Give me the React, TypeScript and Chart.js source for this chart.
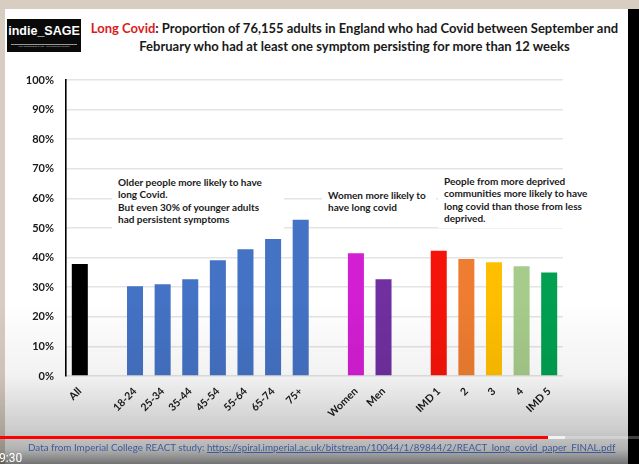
import React, { useEffect, useRef } from "react";
import { Chart, registerables } from "chart.js";

Chart.register(...registerables);

const categories = ["All", "", "18-24", "25-34", "35-44", "45-54", "55-64", "65-74", "75+", "", "Women", "Men", "", "IMD 1", "2", "3", "4", "IMD 5"];
const values = [37.8, null, 30.3, 31.0, 32.7, 39.1, 42.8, 46.3, 52.8, null, 41.5, 32.7, null, 42.3, 39.5, 38.4, 37.1, 35.0];
const barColors = ["#000000", "#000", "#4472C4", "#4472C4", "#4472C4", "#4472C4", "#4472C4", "#4472C4", "#4472C4", "#000", "#D21FD2", "#7030A0", "#000", "#F5140A", "#EE7D31", "#FFBE00", "#A6CB8A", "#00A050"];
const yMax = 100;
const yStep = 10;

const noteAge = ["Older people more likely to have", "long Covid.", "But even 30% of younger adults", "had persistent symptoms"];
const noteSex = ["Women more likely to", "have long covid"];
const noteImd = ["People from more deprived", "communities more likely to have", "long covid than those from less", "deprived."];

const FONT = "Lato, 'Open Sans', 'Liberation Sans', sans-serif";

function Note({ lines, left, top, width }: { lines: string[]; left: number; top: number; width: number }) {
  return (
    <div
      style={{
        position: "absolute",
        left,
        top,
        width,
        background: "#fff",
        padding: "3px 6px",
        fontFamily: FONT,
        fontWeight: 700,
        fontSize: 10,
        lineHeight: "12.4px",
        color: "#1a1a1a",
        zIndex: 3,
        whiteSpace: "nowrap",
      }}
    >
      {lines.map((l, i) => (
        <div key={i}>{l}</div>
      ))}
    </div>
  );
}

export default function App() {
  const ref = useRef<HTMLCanvasElement | null>(null);

  useEffect(() => {
    if (!ref.current) return;
    const chart = new Chart(ref.current, {
      type: "bar",
      data: {
        labels: categories,
        datasets: [
          {
            data: values as any,
            backgroundColor: barColors,
            barPercentage: 0.58,
            categoryPercentage: 1,
          },
        ],
      },
      options: {
        animation: false,
        responsive: true,
        maintainAspectRatio: false,
        layout: { padding: { left: 0, right: 37, top: 20, bottom: 0 } },
        plugins: { legend: { display: false }, tooltip: { enabled: false } },
        scales: {
          x: {
            grid: { display: false },
            border: { display: false },
            ticks: {
              autoSkip: false,
              maxRotation: 45,
              minRotation: 45,
              color: "#1a1a1a",
              font: { family: FONT, weight: "bold", size: 10.5 },
              padding: 1,
            },
            afterFit: (s: any) => {
              s.height = 64;
            },
          },
          y: {
            min: 0,
            max: yMax,
            ticks: {
              stepSize: yStep,
              callback: (v: any) => v + "%",
              color: "#1a1a1a",
              font: { family: FONT, weight: "bold", size: 11 },
              padding: 12,
            },
            grid: { color: "#e4e4e4", lineWidth: 1.5, drawTicks: false },
            border: { display: true, color: "#000", width: 1.6 },
            afterFit: (s: any) => {
              s.width = 66;
            },
          },
        },
      },
    });
    return () => chart.destroy();
  }, []);

  return (
    <div style={{ position: "fixed", left: 0, top: 0, width: 639, height: 464, overflow: "hidden", background: "#d8cdc1" }}>
      <div style={{ position: "absolute", left: 5, top: 9, width: 623, height: 455, background: "#fff" }} />
      <div style={{ position: "absolute", left: 628, top: 9, width: 11, height: 455, background: "#000" }} />

      {/* logo */}
      <div style={{ position: "absolute", left: 7, top: 19, width: 74, height: 33, background: "#0a0a0a", zIndex: 2 }}>
        <div style={{ position: "absolute", left: 0, top: 5, width: 74, textAlign: "center", color: "#fff", fontFamily: "'Liberation Sans', Arial, sans-serif", fontWeight: 700, fontSize: 12.5, lineHeight: "15px" }}>indie_SAGE</div>
        <div style={{ position: "absolute", left: 4, top: 25, width: 66, height: 1, background: "#999" }} />
        <div style={{ position: "absolute", left: 0, top: 26, width: 74, textAlign: "center", color: "#bbb", fontFamily: FONT, fontSize: 2.5, lineHeight: "4px" }}>The Independent SAGE · Following the science</div>
      </div>

      {/* title */}
      <div style={{ position: "absolute", left: 81, top: 20, width: 547, textAlign: "center", fontFamily: FONT, fontWeight: 700, fontSize: 13, lineHeight: "17.5px", color: "#1a1a1a", zIndex: 2, whiteSpace: "nowrap" }}>
        <div><span style={{ color: "#d91c1c" }}>Long Covid</span>: Proportion of 76,155 adults in England who had Covid between September and</div>
        <div>February who had at least one symptom persisting for more than 12 weeks</div>
      </div>

      <div style={{ position: "absolute", left: 0, top: 60, width: 600, height: 380, zIndex: 1 }}>
        <canvas ref={ref} />
      </div>

      <Note lines={noteAge} left={112} top={173} width={160} />
      <Note lines={noteSex} left={322} top={186} width={102} />
      <Note lines={noteImd} left={438} top={172} width={150} />

      {/* video overlay gradient */}
      <div style={{ position: "absolute", left: 0, top: 300, width: 639, height: 164, zIndex: 4, background: "linear-gradient(to bottom, rgba(0,0,0,0) 0%, rgba(0,0,0,0.05) 46%, rgba(0,0,0,0.2) 79%, rgba(0,0,0,0.3) 91%, rgba(0,0,0,0.55) 100%)" }} />

      {/* progress bar */}
      <div style={{ position: "absolute", left: 0, top: 435.5, width: 639, height: 3, background: "rgba(255,255,255,0.25)", zIndex: 5 }} />
      <div style={{ position: "absolute", left: 548, top: 435.5, width: 17, height: 3, background: "rgba(255,255,255,0.7)", zIndex: 5 }} />
      <div style={{ position: "absolute", left: 0, top: 435.5, width: 548, height: 3, background: "#f00", zIndex: 5 }} />

      {/* source */}
      <div style={{ position: "absolute", left: 28, top: 441, fontFamily: FONT, fontSize: 9.8, lineHeight: "13px", color: "#3b5a9a", zIndex: 5, whiteSpace: "nowrap" }}>
        Data from Imperial College REACT study: <span style={{ textDecoration: "underline" }}>https://spiral.imperial.ac.uk/bitstream/10044/1/89844/2/REACT_long_covid_paper_FINAL.pdf</span>
      </div>

      <div style={{ position: "absolute", left: -1, top: 451, fontFamily: "Roboto, sans-serif", fontSize: 12, lineHeight: "14px", color: "#fff", zIndex: 5 }}>9:30</div>
    </div>
  );
}
